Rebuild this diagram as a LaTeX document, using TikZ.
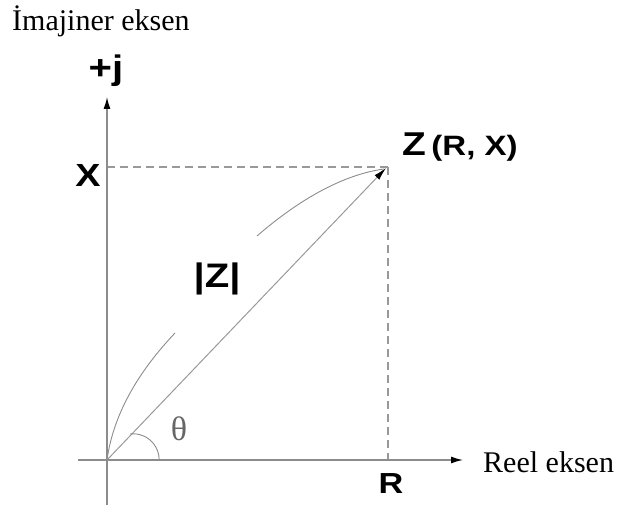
\documentclass[tikz,border=0pt]{standalone}
\usepackage{fontspec}
\setmainfont{Liberation Serif}
\setsansfont{Liberation Sans}
\newfontfamily\widesans[FakeStretch=1.18]{Liberation Sans}
\usetikzlibrary{arrows.meta}
\definecolor{axisgray}{HTML}{8C8C8C}
\definecolor{linegray}{HTML}{999999}
\definecolor{thetagray}{HTML}{666666}
\tikzset{
  axisline/.style={draw=axisgray, line width=1.4pt, -{Latex[black,length=12pt,width=7pt]}},
  vecline/.style={draw=linegray, line width=1pt, -{Latex[black,length=13pt,width=6.5pt]}},
  guide/.style={draw=linegray, line width=1.1pt, dash pattern=on 8pt off 5pt},
  curveline/.style={draw=axisgray, line width=0.9pt},
  lbl/.style={font=\widesans\bfseries\fontsize{31}{36}\selectfont, inner sep=0pt},
  axlbl/.style={font=\rmfamily\fontsize{30}{36}\selectfont, inner sep=0pt}
}
\begin{document}
\begin{tikzpicture}[x=1pt,y=1pt]
\useasboundingbox (0,0) rectangle (620,508);
\coordinate (O) at (107,48);
\coordinate (Z) at (388,341);
\coordinate (ytop) at (107,411);
\coordinate (ybot) at (107,3);
\coordinate (xleft) at (78,48);
\coordinate (xright) at (463,48);
\coordinate (Xp) at (107,341);
\coordinate (Rp) at (388,48);
% guides
\draw[guide] (Xp) -- (Z);
\draw[guide] (Z) -- (Rp);
% axes
\draw[axisline] (ybot) -- (ytop);
\draw[axisline] (xleft) -- (xright);
% vector
\draw[vecline] (O) -- ([shift={(-2,-1)}]Z);
% curve pieces
\draw[curveline] (O) .. controls (114,98) and (142,140) .. (175,175);
\draw[curveline] (257,272) .. controls (295,305) and (340,333) .. (384,339);
% angle arc
\draw[curveline] (130,74) arc[start angle=97, end angle=0, radius=26];
% labels
\node[axlbl, anchor=base west] (imag) at (12,477) {İmajiner eksen};
\node[lbl, anchor=base, font=\widesans\bfseries\fontsize{34}{40}\selectfont] (pj) at (106,428) {+j};
\node[lbl, font=\widesans\bfseries\fontsize{32}{36}\selectfont] (xl) at (88,333) {X};
\node[lbl, anchor=base west, font=\widesans\bfseries\fontsize{33}{38}\selectfont] (zl) at (402,352) {Z\,{\fontsize{28}{32}\selectfont(R, X)}};
\node[lbl, font=\widesans\bfseries\fontsize{34}{38}\selectfont] (mag) at (217,229) {|Z|};
\node[inner sep=0pt, text=thetagray, font=\rmfamily\fontsize{34}{40}\selectfont] (th) at (179,79) {θ};
\node[lbl, font=\widesans\bfseries\fontsize{29}{34}\selectfont] (rl) at (391,24) {R};
\node[axlbl, anchor=base west] (reel) at (483,35) {Reel eksen};
\end{tikzpicture}
\end{document}
